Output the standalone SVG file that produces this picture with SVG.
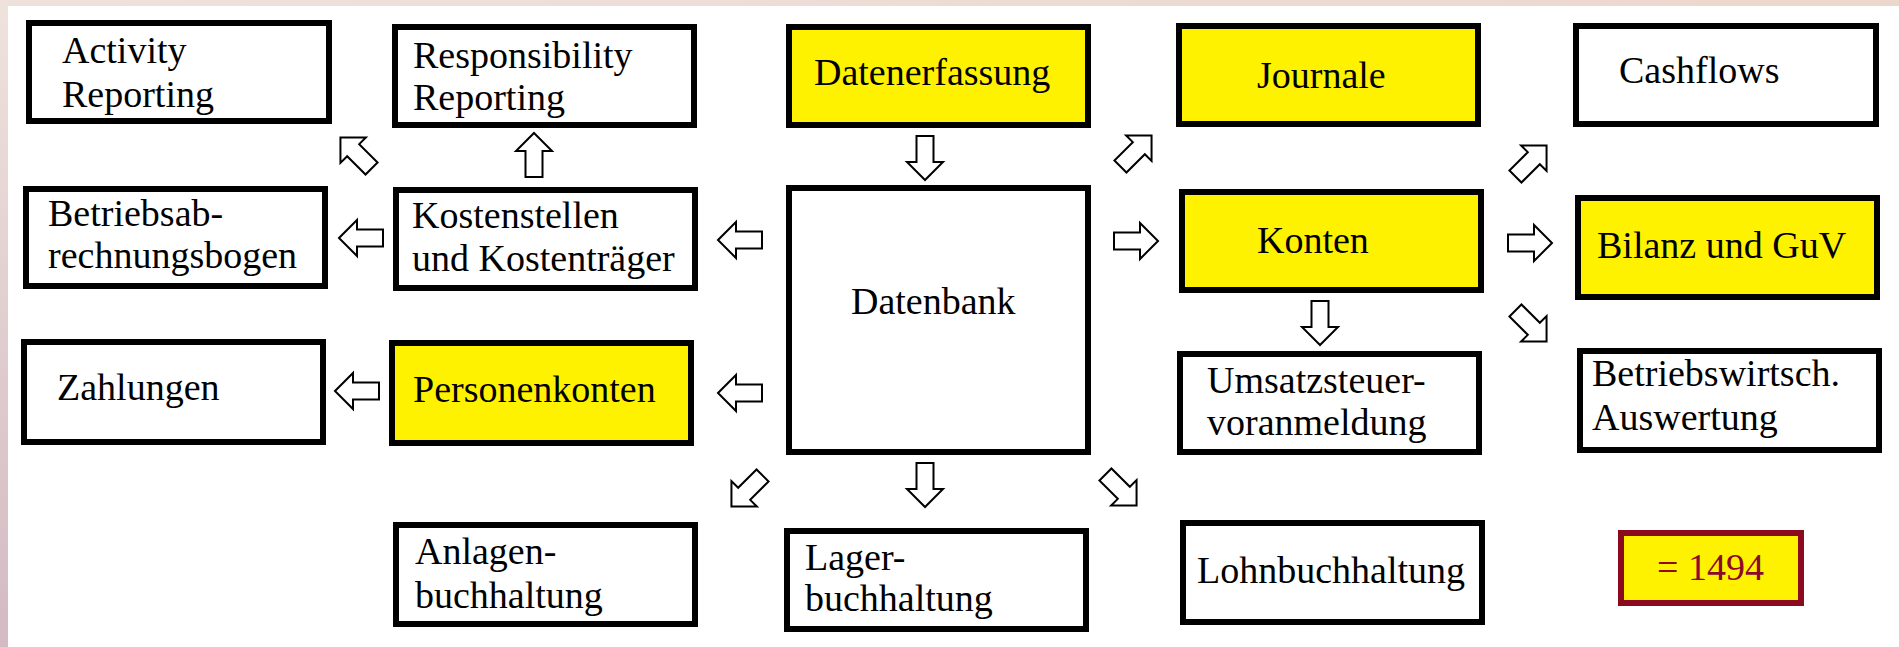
<svg xmlns="http://www.w3.org/2000/svg" xmlns:xlink="http://www.w3.org/1999/xlink" width="1899" height="647" viewBox="0 0 1899 647">
  <defs>
    <linearGradient id="leftBand" x1="0" y1="0" x2="0" y2="1">
      <stop offset="0" stop-color="#efe2dc"/>
      <stop offset="1" stop-color="#d3bac3"/>
    </linearGradient>
    <linearGradient id="topBand" x1="0" y1="0" x2="1" y2="0">
      <stop offset="0" stop-color="#eee1dc"/>
      <stop offset="1" stop-color="#ecd7cc"/>
    </linearGradient>
    <path id="arr" d="M22,0 L4,18 L4,8.5 L-22,8.5 L-22,-8.5 L4,-8.5 L4,-18 Z"/>
    <style>
      .box { fill: #ffffff; stroke: #000000; stroke-width: 6; }
      .hl { fill: #fff200; stroke: #000000; stroke-width: 6; }
      .res { fill: #fff200; stroke: #8b0a1e; stroke-width: 6; }
      .t { font-family: "Liberation Serif", "Times New Roman", serif; font-size: 38px; fill: #000000; }
      .tr { font-family: "Liberation Serif", "Times New Roman", serif; font-size: 38px; fill: #8b0a2a; }
      .a { fill: #ffffff; stroke: #000000; stroke-width: 2; stroke-linejoin: miter; }
    </style>
  </defs>

  <rect x="0" y="0" width="1899" height="647" fill="#ffffff"/>
  <rect x="0" y="0" width="1899" height="6" fill="url(#topBand)"/>
  <rect x="0" y="0" width="8" height="647" fill="url(#leftBand)"/>

  <g id="connectors">
    <use xlink:href="#arr" class="a" transform="translate(356,153) rotate(-135)"/>
    <use xlink:href="#arr" class="a" transform="translate(534,155) rotate(-90)"/>
    <use xlink:href="#arr" class="a" transform="translate(361,238) rotate(180)"/>
    <use xlink:href="#arr" class="a" transform="translate(740,240) rotate(180)"/>
    <use xlink:href="#arr" class="a" transform="translate(925,158) rotate(90)"/>
    <use xlink:href="#arr" class="a" transform="translate(1136,151) rotate(-45)"/>
    <use xlink:href="#arr" class="a" transform="translate(1136,241)"/>
    <use xlink:href="#arr" class="a" transform="translate(1320,323) rotate(90)"/>
    <use xlink:href="#arr" class="a" transform="translate(1531,161) rotate(-45)"/>
    <use xlink:href="#arr" class="a" transform="translate(1530,243)"/>
    <use xlink:href="#arr" class="a" transform="translate(1531,326) rotate(45)"/>
    <use xlink:href="#arr" class="a" transform="translate(357,391) rotate(180)"/>
    <use xlink:href="#arr" class="a" transform="translate(740,393) rotate(180)"/>
    <use xlink:href="#arr" class="a" transform="translate(747,491) rotate(135)"/>
    <use xlink:href="#arr" class="a" transform="translate(925,485) rotate(90)"/>
    <use xlink:href="#arr" class="a" transform="translate(1121,490) rotate(45)"/>
  </g>

  <g id="activity-reporting">
    <rect class="box" x="29" y="23" width="300" height="98"/>
    <text class="t" x="62" y="63">Activity</text>
    <text class="t" x="62" y="107">Reporting</text>
  </g>
  <g id="responsibility-reporting">
    <rect class="box" x="395" y="27" width="299" height="98"/>
    <text class="t" x="413" y="68">Responsibility</text>
    <text class="t" x="413" y="110">Reporting</text>
  </g>
  <g id="datenerfassung">
    <rect class="hl" x="789" y="27" width="299" height="98"/>
    <text class="t" x="814" y="85">Datenerfassung</text>
  </g>
  <g id="journale">
    <rect class="hl" x="1179" y="26" width="299" height="98"/>
    <text class="t" x="1257" y="88">Journale</text>
  </g>
  <g id="cashflows">
    <rect class="box" x="1576" y="26" width="300" height="98"/>
    <text class="t" x="1619" y="83">Cashflows</text>
  </g>
  <g id="betriebsabrechnungsbogen">
    <rect class="box" x="26" y="189" width="299" height="97"/>
    <text class="t" x="48" y="226">Betriebsab-</text>
    <text class="t" x="48" y="268">rechnungsbogen</text>
  </g>
  <g id="kostenstellen">
    <rect class="box" x="396" y="190" width="299" height="98"/>
    <text class="t" x="412" y="228">Kostenstellen</text>
    <text class="t" x="412" y="271">und Kostenträger</text>
  </g>
  <g id="datenbank">
    <rect class="box" x="789" y="188" width="299" height="264"/>
    <text class="t" x="851" y="314">Datenbank</text>
  </g>
  <g id="konten">
    <rect class="hl" x="1182" y="192" width="299" height="98"/>
    <text class="t" x="1257" y="253">Konten</text>
  </g>
  <g id="bilanz-guv">
    <rect class="hl" x="1578" y="198" width="299" height="99"/>
    <text class="t" x="1597" y="258">Bilanz und GuV</text>
  </g>
  <g id="zahlungen">
    <rect class="box" x="24" y="342" width="299" height="100"/>
    <text class="t" x="57" y="400">Zahlungen</text>
  </g>
  <g id="personenkonten">
    <rect class="hl" x="392" y="343" width="299" height="100"/>
    <text class="t" x="413" y="402">Personenkonten</text>
  </g>
  <g id="umsatzsteuer">
    <rect class="box" x="1180" y="354" width="299" height="98"/>
    <text class="t" x="1207" y="393">Umsatzsteuer-</text>
    <text class="t" x="1207" y="435">voranmeldung</text>
  </g>
  <g id="betriebswirtsch">
    <rect class="box" x="1580" y="351" width="299" height="99"/>
    <text class="t" x="1592" y="386">Betriebswirtsch.</text>
    <text class="t" x="1592" y="430">Auswertung</text>
  </g>
  <g id="anlagenbuchhaltung">
    <rect class="box" x="396" y="525" width="299" height="99"/>
    <text class="t" x="415" y="564">Anlagen-</text>
    <text class="t" x="415" y="608">buchhaltung</text>
  </g>
  <g id="lagerbuchhaltung">
    <rect class="box" x="787" y="531" width="299" height="98"/>
    <text class="t" x="805" y="570">Lager-</text>
    <text class="t" x="805" y="611">buchhaltung</text>
  </g>
  <g id="lohnbuchhaltung">
    <rect class="box" x="1183" y="523" width="299" height="99"/>
    <text class="t" x="1197" y="583">Lohnbuchhaltung</text>
  </g>
  <g id="result-1494">
    <rect class="res" x="1621" y="533" width="180" height="70"/>
    <text class="tr" x="1657" y="580">= 1494</text>
  </g>
</svg>
